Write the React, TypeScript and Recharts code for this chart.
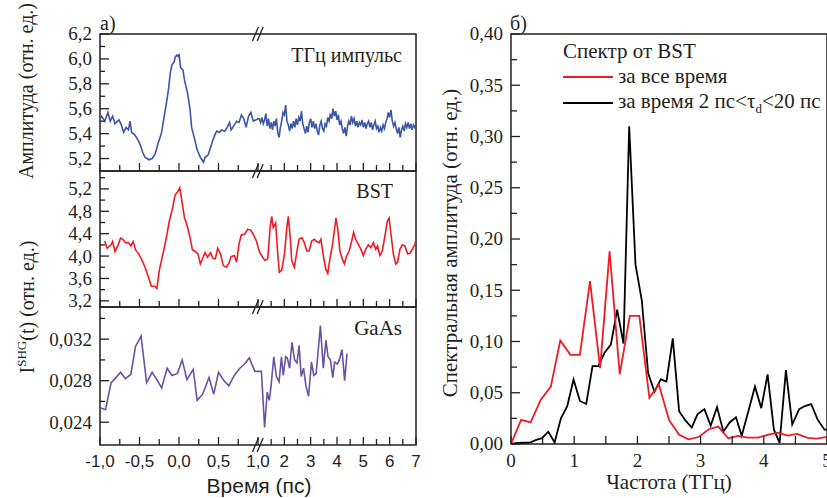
import React from 'react';
import { LineChart, Line, XAxis, YAxis, ReferenceArea, ReferenceLine, Legend } from 'recharts';

const SERIF = '"Liberation Serif", "Times New Roman", serif';
const SANS = '"Liberation Sans", Arial, sans-serif';
const INK = '#231f20';

// time traces: [time (ps), value]
const thzPulse: [number, number][] = [
  [-1.0, 5.52], [-0.98, 5.54], [-0.94, 5.5], [-0.9, 5.57], [-0.87, 5.5], [-0.84, 5.54], [-0.81, 5.48],
  [-0.76, 5.51], [-0.73, 5.47], [-0.7, 5.41], [-0.67, 5.45], [-0.64, 5.43], [-0.62, 5.5], [-0.6, 5.41],
  [-0.56, 5.39], [-0.52, 5.35], [-0.49, 5.31], [-0.46, 5.25], [-0.43, 5.21], [-0.38, 5.19], [-0.34, 5.2],
  [-0.3, 5.24], [-0.27, 5.31], [-0.22, 5.41], [-0.19, 5.53], [-0.16, 5.64], [-0.13, 5.77], [-0.11, 5.89],
  [-0.09, 5.95], [-0.06, 5.98], [-0.05, 6.01], [-0.03, 6.03], [-0.01, 6.02], [0.0, 6.04], [0.02, 5.93],
  [0.05, 5.91], [0.07, 5.83], [0.11, 5.72], [0.14, 5.59], [0.16, 5.45], [0.2, 5.35], [0.23, 5.27],
  [0.27, 5.21], [0.31, 5.17], [0.33, 5.21], [0.37, 5.23], [0.4, 5.29], [0.43, 5.35], [0.46, 5.4],
  [0.48, 5.42], [0.51, 5.41], [0.54, 5.43], [0.58, 5.42], [0.61, 5.45], [0.64, 5.49], [0.66, 5.43],
  [0.7, 5.47], [0.73, 5.5], [0.76, 5.49], [0.79, 5.55], [0.82, 5.52], [0.85, 5.45], [0.88, 5.54],
  [0.91, 5.57], [0.94, 5.5], [0.97, 5.51], [1.0, 5.52],
  [1.05, 5.52], [1.1, 5.49], [1.15, 5.53], [1.2, 5.48], [1.25, 5.51], [1.3, 5.56], [1.35, 5.46],
  [1.4, 5.52], [1.45, 5.44], [1.5, 5.49], [1.55, 5.43], [1.6, 5.5], [1.65, 5.46], [1.7, 5.52],
  [1.75, 5.41], [1.8, 5.37], [1.85, 5.45], [1.9, 5.5], [1.95, 5.57], [2.0, 5.55], [2.05, 5.63],
  [2.1, 5.5], [2.15, 5.47], [2.2, 5.42], [2.25, 5.48], [2.3, 5.44], [2.35, 5.5], [2.4, 5.45],
  [2.45, 5.52], [2.5, 5.47], [2.55, 5.53], [2.6, 5.5], [2.65, 5.58], [2.7, 5.48], [2.75, 5.44],
  [2.8, 5.4], [2.85, 5.46], [2.9, 5.41], [2.95, 5.49], [3.0, 5.52], [3.05, 5.45], [3.1, 5.5],
  [3.15, 5.44], [3.2, 5.48], [3.25, 5.42], [3.3, 5.39], [3.35, 5.47], [3.4, 5.5], [3.45, 5.44],
  [3.5, 5.42], [3.55, 5.48], [3.6, 5.46], [3.65, 5.53], [3.7, 5.5], [3.75, 5.56], [3.8, 5.52],
  [3.85, 5.6], [3.9, 5.54], [3.95, 5.58], [4.0, 5.51], [4.05, 5.55], [4.1, 5.47], [4.15, 5.5],
  [4.2, 5.44], [4.25, 5.4], [4.3, 5.45], [4.35, 5.38], [4.4, 5.46], [4.45, 5.5], [4.5, 5.47],
  [4.55, 5.54], [4.6, 5.49], [4.65, 5.52], [4.7, 5.46], [4.75, 5.5], [4.8, 5.45], [4.85, 5.49],
  [4.9, 5.47], [4.95, 5.51], [5.0, 5.45], [5.05, 5.49], [5.1, 5.44], [5.15, 5.48], [5.2, 5.5],
  [5.25, 5.45], [5.3, 5.49], [5.35, 5.43], [5.4, 5.47], [5.45, 5.5], [5.5, 5.44], [5.55, 5.46],
  [5.6, 5.41], [5.65, 5.45], [5.7, 5.42], [5.75, 5.47], [5.8, 5.44], [5.85, 5.49], [5.9, 5.52],
  [5.95, 5.57], [6.0, 5.53], [6.05, 5.59], [6.1, 5.5], [6.15, 5.46], [6.2, 5.49], [6.25, 5.44],
  [6.3, 5.4], [6.35, 5.45], [6.4, 5.37], [6.45, 5.43], [6.5, 5.46], [6.55, 5.42], [6.6, 5.48],
  [6.65, 5.45], [6.7, 5.49], [6.75, 5.44], [6.8, 5.48], [6.85, 5.43], [6.9, 5.47], [6.95, 5.45],
  [7.0, 5.48],
];

const bstSignal: [number, number][] = [
  [-0.94, 4.27], [-0.91, 4.14], [-0.86, 4.2], [-0.84, 4.26], [-0.81, 4.08], [-0.77, 4.2], [-0.74, 4.32],
  [-0.71, 4.3], [-0.68, 4.24], [-0.64, 4.24], [-0.61, 4.18], [-0.58, 4.26], [-0.55, 4.11], [-0.51, 4.04],
  [-0.47, 3.93], [-0.43, 3.8], [-0.39, 3.64], [-0.35, 3.46], [-0.31, 3.46], [-0.28, 3.42], [-0.25, 3.74],
  [-0.2, 4.06], [-0.16, 4.33], [-0.12, 4.64], [-0.09, 4.8], [-0.05, 5.09], [-0.02, 5.14], [0.01, 5.22],
  [0.04, 4.95], [0.07, 4.68], [0.1, 4.56], [0.14, 4.33], [0.17, 4.11], [0.2, 4.09], [0.24, 4.04],
  [0.27, 3.86], [0.3, 3.96], [0.33, 4.06], [0.36, 3.98], [0.4, 4.06], [0.43, 3.96], [0.46, 3.95],
  [0.49, 4.14], [0.53, 4.02], [0.56, 3.83], [0.6, 3.8], [0.63, 3.87], [0.66, 3.99], [0.7, 4.01],
  [0.73, 3.89], [0.76, 4.22], [0.79, 4.38], [0.83, 4.39], [0.87, 4.48], [0.91, 4.46], [0.94, 4.39],
  [0.98, 4.27], [1.01, 4.15], [1.07, 4.06], [1.14, 4.01], [1.2, 3.96], [1.27, 3.92], [1.37, 3.95],
  [1.46, 4.51], [1.52, 4.71], [1.58, 4.51], [1.67, 4.59], [1.75, 4.04], [1.81, 3.71], [1.9, 3.75],
  [2.0, 4.01], [2.09, 4.48], [2.15, 4.71], [2.22, 4.36], [2.28, 3.92], [2.38, 3.8], [2.47, 4.06],
  [2.56, 4.3], [2.66, 4.33], [2.76, 4.24], [2.85, 4.09], [2.94, 4.09], [3.04, 4.27], [3.14, 4.3],
  [3.23, 4.26], [3.32, 4.24], [3.39, 4.3], [3.48, 4.01], [3.57, 3.77], [3.65, 3.69], [3.73, 3.95],
  [3.82, 4.18], [3.9, 4.45], [3.96, 4.68], [4.03, 4.48], [4.11, 4.09], [4.2, 3.95], [4.28, 3.86],
  [4.37, 4.01], [4.46, 4.09], [4.56, 4.27], [4.63, 4.42], [4.71, 4.3], [4.81, 4.21], [4.91, 4.12],
  [5.0, 4.01], [5.09, 4.12], [5.19, 4.2], [5.29, 4.15], [5.38, 4.24], [5.47, 4.12], [5.54, 4.18],
  [5.63, 4.01], [5.72, 4.09], [5.82, 4.36], [5.91, 4.62], [5.98, 4.68], [6.05, 4.39], [6.14, 4.04],
  [6.23, 3.86], [6.3, 3.89], [6.39, 4.12], [6.48, 4.2], [6.58, 4.18], [6.68, 4.04], [6.77, 4.05],
  [6.86, 4.12], [6.96, 4.21], [7.0, 4.3],
];

const gaasSignal: [number, number][] = [
  [-1.0, 0.0254], [-0.93, 0.0252], [-0.86, 0.0278], [-0.81, 0.0282], [-0.74, 0.0288], [-0.68, 0.0282],
  [-0.61, 0.0286], [-0.55, 0.0313], [-0.48, 0.0323], [-0.41, 0.0278], [-0.34, 0.0288], [-0.28, 0.0281],
  [-0.22, 0.0273], [-0.15, 0.0292], [-0.09, 0.0285], [-0.02, 0.0287], [0.04, 0.03], [0.1, 0.0281],
  [0.18, 0.0291], [0.23, 0.0261], [0.3, 0.0267], [0.38, 0.0283], [0.44, 0.0267], [0.5, 0.0288],
  [0.57, 0.028], [0.63, 0.0275], [0.7, 0.0285], [0.77, 0.0292], [0.83, 0.0296], [0.89, 0.0302],
  [0.96, 0.0289], [1.13, 0.0289], [1.25, 0.0235], [1.35, 0.0269], [1.43, 0.0261], [1.5, 0.0276],
  [1.6, 0.0303], [1.7, 0.0284], [1.8, 0.0279], [1.89, 0.0303], [1.96, 0.0285], [2.05, 0.0303],
  [2.11, 0.0302], [2.2, 0.0292], [2.29, 0.0317], [2.39, 0.03], [2.48, 0.0297], [2.56, 0.0314],
  [2.64, 0.0284], [2.73, 0.0292], [2.82, 0.0275], [2.92, 0.0265], [3.03, 0.0298], [3.12, 0.0285],
  [3.21, 0.0287], [3.37, 0.0333], [3.48, 0.0292], [3.58, 0.0319], [3.66, 0.0303], [3.75, 0.03],
  [3.84, 0.0283], [3.91, 0.0298], [4.01, 0.0296], [4.09, 0.03], [4.19, 0.031], [4.29, 0.028],
  [4.38, 0.0306],
];

// spectra
const freqAll = [0, 0.16, 0.31, 0.47, 0.63, 0.78, 0.94, 1.09, 1.25, 1.41, 1.56, 1.72, 1.88, 2.03, 2.19, 2.34,
  2.5, 2.66, 2.81, 2.97, 3.13, 3.28, 3.44, 3.59, 3.75, 3.91, 4.06, 4.22, 4.38, 4.53, 4.69, 4.84, 5.0];
const spectrumAll = [0, 0.0235, 0.021, 0.043, 0.056, 0.101, 0.087, 0.087, 0.159, 0.074, 0.188, 0.068, 0.125,
  0.125, 0.045, 0.058, 0.0235, 0.009, 0.0046, 0.0068, 0.0144, 0.017, 0.0054, 0.008, 0.0062, 0.0062, 0.009,
  0.011, 0.0082, 0.0098, 0.006, 0.0052, 0.007];

const freqWindow = [0, 0.1, 0.2, 0.3, 0.4, 0.49, 0.59, 0.69, 0.79, 0.89, 0.99, 1.09, 1.19, 1.29, 1.38, 1.48,
  1.58, 1.68, 1.78, 1.87, 1.97, 2.07, 2.17, 2.27, 2.37, 2.46, 2.56, 2.66, 2.76, 2.86, 2.95, 3.06, 3.16, 3.26,
  3.36, 3.46, 3.56, 3.65, 3.76, 3.86, 3.96, 4.06, 4.16, 4.25, 4.35, 4.45, 4.56, 4.65, 4.75, 4.85, 4.96, 5.0];
const spectrumWindow = [0, 0.001, 0.0012, 0.0013, 0.004, 0.0057, 0.012, 0.0016, 0.025, 0.037, 0.063, 0.042,
  0.039, 0.076, 0.076, 0.089, 0.097, 0.131, 0.098, 0.31, 0.175, 0.14, 0.069, 0.051, 0.063, 0.061, 0.103,
  0.032, 0.023, 0.016, 0.029, 0.034, 0.018, 0.036, 0.012, 0.021, 0.026, 0.008, 0.033, 0.056, 0.035, 0.068,
  0.014, 0.001, 0.072, 0.019, 0.034, 0.037, 0.039, 0.024, 0.014, 0.014];

// ticks
const timeTicks = [-1, -0.5, 0, 0.5, 1, 2, 3, 4, 5, 6, 7];
const timeTickLabels = ['-1,0', '-0,5', '0,0', '0,5', '1,0', '2', '3', '4', '5', '6', '7'];
const timeMinorTicks = [-0.75, -0.25, 0.25, 0.75, 1.5, 2.5, 3.5, 4.5, 5.5, 6.5];

const thzTicks = [5.2, 5.4, 5.6, 5.8, 6.0, 6.2];
const thzMinorTicks = [5.3, 5.5, 5.7, 5.9, 6.1];
const bstTicks = [3.2, 3.6, 4.0, 4.4, 4.8, 5.2];
const bstMinorTicks = [3.4, 3.8, 4.2, 4.6, 5.0, 5.4];
const gaasTicks = [0.024, 0.028, 0.032];
const gaasMinorTicks = [0.026, 0.03, 0.034];

const freqTicks = [0, 1, 2, 3, 4, 5];
const freqMinorTicks = [0.5, 1.5, 2.5, 3.5, 4.5];
const ampTicks = [0, 0.05, 0.1, 0.15, 0.2, 0.25, 0.3, 0.35, 0.4];
const ampMinorTicks = [0.025, 0.075, 0.125, 0.175, 0.225, 0.275, 0.325, 0.375];

// broken time axis: 1 ps -> 7 ps is squeezed 3x
const toU = (t: number) => (t <= 1 ? t : 1 + (t - 1) / 3);
const fromU = (u: number) => (u <= 1 ? u : 1 + (u - 1) * 3);
const near = (a: number, b: number) => Math.abs(a - b) < 1e-6;
const comma = (v: number, d: number) => v.toFixed(d).replace('.', ',');

const YTick = (p: any) => {
  const { x, y, payload, majors, digits, major = 9, minor = 5 } = p;
  const v = payload.value;
  const isMajor = majors.some((m: number) => near(m, v));
  return (
    <g>
      <line x1={x} x2={x + (isMajor ? major : minor)} y1={y} y2={y} stroke={INK} strokeWidth={1.3} />
      {isMajor && (
        <text x={x - 8} y={y} dy="0.34em" textAnchor="end" fontFamily={SERIF} fontSize={19} fill={INK}>
          {comma(v, digits)}
        </text>
      )}
    </g>
  );
};

const TimeTick = (p: any) => {
  const { x, y, payload, showLabel } = p;
  const t = fromU(payload.value);
  const idx = timeTicks.findIndex((m) => near(m, t));
  return (
    <g>
      <line x1={x} x2={x} y1={y} y2={y - (idx >= 0 ? 8 : 6)} stroke={INK} strokeWidth={1.3} />
      {showLabel && idx >= 0 && (
        <text x={x} y={y + 22} textAnchor="middle" fontFamily={SANS} fontSize={17} fill={INK}>
          {timeTickLabels[idx]}
        </text>
      )}
    </g>
  );
};

const FreqTick = (p: any) => {
  const { x, y, payload } = p;
  const isMajor = freqTicks.some((m) => near(m, payload.value));
  return (
    <g>
      <line x1={x} x2={x} y1={y} y2={y - 8} stroke={INK} strokeWidth={1.3} />
      {isMajor && (
        <text x={x} y={y + 23} textAnchor="middle" fontFamily={SERIF} fontSize={19} fill={INK}>
          {payload.value}
        </text>
      )}
    </g>
  );
};

const PLOT_LEFT = 100;
const PLOT_W = 316;

function TimePanel(props: {
  series: [number, number][];
  color: string;
  domain: [number, number];
  majors: number[];
  minors: number[];
  digits: number;
  top: number;
  plotH: number;
  labels?: boolean;
  breakTop?: boolean;
}) {
  const { series, color, domain, majors, minors, digits, top, plotH, labels, breakTop } = props;
  const rows = series.map(([t, v]) => ({ u: toU(t), v }));
  const axisH = labels ? 40 : 9;
  const h = ((domain[1] - domain[0]) * 7) / plotH;
  const slash = (yb: number, key: string) => [
    <ReferenceLine key={key + 'a'} segment={[{ x: 0.93, y: yb - h }, { x: 1.005, y: yb + h }]} stroke={INK} strokeWidth={1.3} ifOverflow="visible" />,
    <ReferenceLine key={key + 'b'} segment={[{ x: 0.99, y: yb - h }, { x: 1.065, y: yb + h }]} stroke={INK} strokeWidth={1.3} ifOverflow="visible" />,
  ];
  return (
    <div style={{ position: 'absolute', left: 0, top: top - 10 }}>
      <LineChart width={PLOT_LEFT + PLOT_W + 10} height={10 + plotH + axisH + 1} data={rows}
        margin={{ top: 10, right: 10, bottom: 1, left: 0 }}>
        <XAxis dataKey="u" type="number" domain={[-1, 3]} allowDataOverflow height={axisH}
          ticks={[...timeTicks, ...timeMinorTicks].map(toU)} interval={0}
          axisLine={false} tickLine={false} tickSize={0} tickMargin={0}
          tick={(p: any) => <TimeTick {...p} showLabel={labels} />} />
        <YAxis type="number" domain={domain} allowDataOverflow width={PLOT_LEFT}
          ticks={[...majors, ...minors]} interval={0}
          axisLine={false} tickLine={false} tickSize={0} tickMargin={0}
          tick={(p: any) => <YTick {...p} majors={majors} digits={digits} />} />
        <ReferenceArea x1={-1} x2={3} y1={domain[0]} y2={domain[1]} fill="none" stroke={INK} strokeWidth={1.5} ifOverflow="visible" />
        <Line type="linear" dataKey="v" stroke={color} strokeWidth={1.6} dot={false} isAnimationActive={false} />
        {breakTop && slash(domain[1], 'top')}
        {slash(domain[0], 'bot')}
      </LineChart>
    </div>
  );
}

const SpectrumLegend = () => (
  <div style={{ fontFamily: SERIF, fontSize: 21, color: INK, lineHeight: '25px', whiteSpace: 'nowrap' }}>
    <div>Спектр от BST</div>
    <div style={{ display: 'flex', alignItems: 'center' }}>
      <span style={{ width: 50, borderTop: '2px solid #ed1c24', marginRight: 5 }} />
      за все время
    </div>
    <div style={{ display: 'flex', alignItems: 'center' }}>
      <span style={{ width: 50, borderTop: '2px solid #000', marginRight: 5 }} />
      <span>за время 2 пс&lt;τ<span style={{ fontSize: 13, position: 'relative', top: 5 }}>d</span>&lt;20 пс</span>
    </div>
  </div>
);

export default function App() {
  const allRows = freqAll.map((f, i) => ({ f, a: spectrumAll[i] }));
  const windowRows = freqWindow.map((f, i) => ({ f, a: spectrumWindow[i] }));
  return (
    <div style={{ position: 'absolute', left: 0, top: 0, width: 827, height: 498, overflow: 'hidden', background: '#fff' }}>
      <TimePanel series={thzPulse} color="#3c56a6" domain={[5.1, 6.2]} majors={thzTicks} minors={thzMinorTicks}
        digits={1} top={34} plotH={137} breakTop />
      <TimePanel series={bstSignal} color="#ed1c24" domain={[3.09, 5.52]} majors={bstTicks} minors={bstMinorTicks}
        digits={1} top={171} plotH={136} />
      <TimePanel series={gaasSignal} color="#6a52a3" domain={[0.0218, 0.0351]} majors={gaasTicks} minors={gaasMinorTicks}
        digits={3} top={307} plotH={138} labels />

      <div style={{ position: 'absolute', left: 441, top: 24 }}>
        <LineChart width={396} height={461} margin={{ top: 10, right: 10, bottom: 1, left: 0 }}>
          <XAxis dataKey="f" type="number" domain={[0, 5]} allowDataOverflow height={40}
            ticks={[...freqTicks, ...freqMinorTicks]} interval={0}
            axisLine={false} tickLine={false} tickSize={0} tickMargin={0}
            tick={(p: any) => <FreqTick {...p} />} />
          <YAxis type="number" domain={[0, 0.4]} allowDataOverflow width={70}
            ticks={[...ampTicks, ...ampMinorTicks]} interval={0}
            axisLine={false} tickLine={false} tickSize={0} tickMargin={0}
            tick={(p: any) => <YTick {...p} majors={ampTicks} digits={2} major={9} minor={6} />} />
          <ReferenceArea x1={0} x2={5} y1={0} y2={0.4} fill="none" stroke={INK} strokeWidth={1.5} ifOverflow="visible" />
          <Line data={windowRows} type="linear" dataKey="a" stroke="#000" strokeWidth={1.8} dot={false} isAnimationActive={false} />
          <Line data={allRows} type="linear" dataKey="a" stroke="#ed1c24" strokeWidth={1.8} dot={false} isAnimationActive={false} />
          <Legend layout="horizontal" verticalAlign="middle" align="center" content={() => <SpectrumLegend />}
            wrapperStyle={{ left: 122, top: 15, width: 'auto', height: 'auto' }} />
        </LineChart>
      </div>

      <svg width={827} height={498} style={{ position: 'absolute', left: 0, top: 0, pointerEvents: 'none' }}>
        <g fontFamily={SERIF} fill={INK} fontSize={20}>
          <text x={100} y={30}>а)</text>
          <text x={510} y={30}>б)</text>
          <text x={402} y={62} textAnchor="end">ТГц импульс</text>
          <text x={393} y={198} textAnchor="end">BST</text>
          <text x={402} y={335} textAnchor="end" fontSize={21}>GaAs</text>
          <text transform="translate(33,91) rotate(-90)" textAnchor="middle">Амплитуда (отн. ед.)</text>
          <text transform="translate(34,307) rotate(-90)" textAnchor="middle">
            I<tspan fontSize={13} dy={-8}>SHG</tspan><tspan dy={8}>(t) (отн. ед.)</tspan>
          </text>
          <text transform="translate(457,243) rotate(-90)" textAnchor="middle" fontSize={21}>Спектральная амплитуда (отн. ед.)</text>
          <text x={669} y={489} textAnchor="middle" fontSize={21}>Частота (ТГц)</text>
        </g>
        <text x={259} y={493} textAnchor="middle" fontFamily={SANS} fontSize={21} fill={INK}>Время (пс)</text>
      </svg>
    </div>
  );
}
